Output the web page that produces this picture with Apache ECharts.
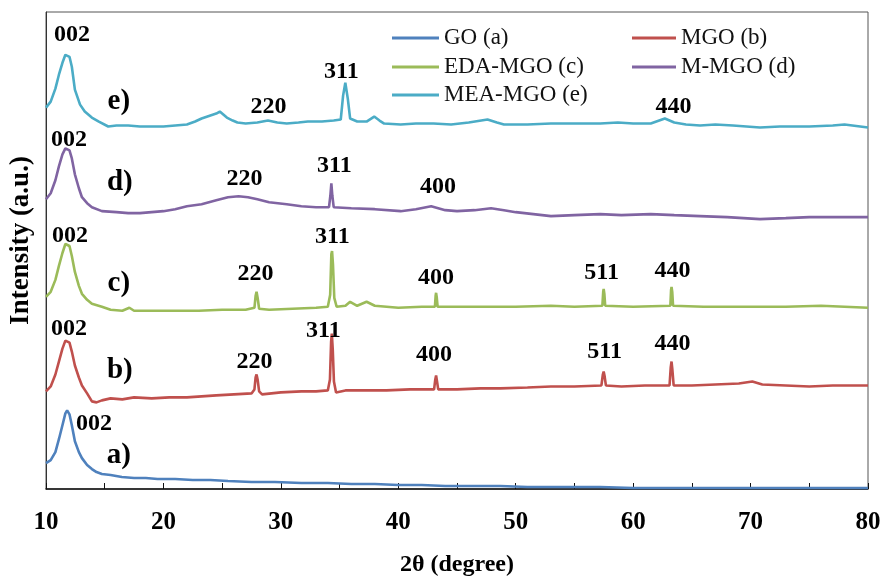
<!DOCTYPE html>
<html>
<head>
<meta charset="utf-8">
<script src="https://cdn.jsdelivr.net/npm/echarts@6/dist/echarts.min.js"></script>
<style>html,body{margin:0;padding:0;background:#fff}#c{width:886px;height:582px}</style>
</head>
<body>
<div id="c"></div>
<script>
// ---- data (2θ in degrees, intensity in arbitrary stacked units) ----
const seriesNames = ['GO (a)', 'MGO (b)', 'EDA-MGO (c)', 'M-MGO (d)', 'MEA-MGO (e)'];
const xTickLabels = [10, 20, 30, 40, 50, 60, 70, 80];

const GO_a = [[10,26],[10.4,29],[10.8,37],[11.1,50],[11.4,64],[11.65,76],[11.8,79],[12.0,75],[12.2,64],[12.46,48],[12.8,37],[13.06,31],[13.5,24],[13.91,20],[14.3,17],[14.76,15],[15.5,14],[16.46,12],[17.5,11],[18.5,11],[19.5,10],[21,10],[22.5,9],[24,9],[25.5,8],[27.5,7],[29.5,7],[31.75,6],[34,6],[36,5],[38,5],[40,4],[42,4],[44,3],[46,3],[48.7,3],[51,2],[54,2],[57.2,2],[60,1],[65,1],[70,1],[75,1],[80,1]];

const MGO_b = [[10,98],[10.4,103],[10.8,115],[11.1,128],[11.4,141],[11.65,149],[11.8,151],[12.0,147],[12.2,138],[12.46,124],[12.8,112],[13.06,104],[13.5,96],[13.91,88],[14.3,87],[14.76,89],[15.5,91],[16.5,90],[17.5,92],[19,91],[20.5,92],[22,92],[23.25,93],[24.5,94],[26,95],[27.5,96],[27.75,100],[27.85,112],[27.93,115],[28.02,110],[28.15,98],[28.4,95],[30,97],[31.75,98],[33,98],[34.0,99],[34.18,110],[34.28,148],[34.34,156],[34.42,140],[34.52,108],[34.7,97],[35.5,99],[37,99],[39,99],[41,100],[43.05,100],[43.15,110],[43.22,114],[43.3,108],[43.4,100],[45,100],[47,101],[48.7,101],[51,102],[53,103],[55,103],[57.3,104],[57.42,115],[57.49,118],[57.56,114],[57.68,104],[59,103],[61,104],[63.1,104],[63.2,122],[63.27,128],[63.34,120],[63.45,104],[65,104],[67,105],[69,106],[70.15,108],[71,105],[73,104],[75,103],[77,104],[80,104]];

const EDA_c = [[10,193],[10.4,198],[10.8,210],[11.1,224],[11.4,237],[11.65,246],[11.8,248],[12.0,244],[12.2,234],[12.46,218],[12.8,204],[13.06,196],[13.5,190],[13.91,186],[14.76,183],[15.5,180],[16.5,179],[17.1,182],[17.5,179],[19,179],[21,179],[23,179],[25,180],[27.0,180],[27.75,182],[27.85,194],[27.93,198],[28.02,192],[28.15,181],[29,180],[31,181],[33,182],[34.0,183],[34.2,195],[34.3,236],[34.36,239],[34.44,225],[34.55,192],[34.75,183],[35.5,184],[35.9,188],[36.5,184],[37.3,188],[38,184],[40,182],[42,183],[43.12,183],[43.18,194],[43.22,197],[43.28,192],[43.35,183],[45,183],[48,183],[50,183],[53,184],[55,183],[57.38,184],[57.45,198],[57.49,201],[57.55,196],[57.62,184],[60,183],[63.17,184],[63.23,200],[63.27,203],[63.33,198],[63.4,184],[66,183],[70,183],[73,183],[76,184],[80,182]];

const M_MGO_d = [[10,291],[10.4,297],[10.8,310],[11.1,324],[11.4,336],[11.65,342],[11.8,343],[12.0,340],[12.2,332],[12.46,316],[12.8,302],[13.06,293],[13.5,287],[13.91,283],[14.76,279],[16,278],[17,277],[18,277],[19,278],[20,279],[21,281],[22,284],[23.25,286],[24.5,290],[25.5,293],[26.4,294],[27.2,293],[28,291],[29,288],[30.5,286],[31.75,284],[33,283],[34.1,283],[34.22,295],[34.3,307],[34.38,295],[34.5,283],[36,282],[38,281],[40.2,279],[41.5,281],[42.8,284],[44,280],[45,279],[46.5,280],[47.9,282],[49,280],[50,278],[51.5,276],[53,274],[55,275],[57.2,276],[59,275],[61.5,276],[63.5,275],[65.7,274],[68,273],[70.8,271],[73,272],[75,273],[77.5,273],[80,273]];

const MEA_MGO_e = [[10,383],[10.4,389],[10.8,402],[11.1,416],[11.4,428],[11.65,436],[11.8,438],[12.0,434],[12.2,424],[12.46,401],[12.9,386],[13.3,379],[13.9,373],[14.5,369],[15.3,364],[16,365],[17,365],[18,364],[19,364],[20,364],[21,365],[22,366],[22.7,369],[23.25,372],[24,375],[24.5,377],[24.8,379],[25.1,376],[25.4,373],[25.9,370],[26.3,368],[27,367],[28,368],[28.9,370],[29.7,368],[30.5,367],[31.5,368],[32.3,369],[33.5,369],[34.5,370],[35.1,371],[35.3,395],[35.49,408],[35.7,392],[35.9,372],[36.5,369],[37.3,369],[37.95,374],[38.4,370],[38.8,367],[40.2,366],[41.5,367],[43,367],[44.5,366],[46,368],[47.6,371],[48.4,368],[49,366],[51,366],[53,367],[55,367],[57.2,367],[58.7,368],[60,367],[61.5,367],[62.7,372],[63.5,368],[64.5,366],[65.7,365],[67,366],[68.5,365],[70.8,363],[72.5,364],[75,364],[77,365],[78,366],[80,363]];

// peak (hkl) annotations: [2θ, intensity, text]
const hklLabels = [
  [12.21,456,'002'],[28.94,384,'220'],[35.15,419,'311'],[63.44,384,'440'],
  [11.95,351,'002'],[26.9,312,'220'],[34.55,325,'311'],[43.39,303,'400'],
  [12.04,254,'002'],[27.84,216,'220'],[34.38,253,'311'],[43.22,212,'400'],[57.32,217,'511'],[63.35,219,'440'],
  [11.95,161,'002'],[27.76,128,'220'],[33.62,159,'311'],[43.05,135,'400'],[57.57,138,'511'],[63.35,146,'440'],
  [14.08,65,'002']
];
// curve tags: [2θ, intensity, text]
const curveTags = [[16.2,389,'e)'],[16.29,308,'d)'],[16.2,206,'c)'],[16.29,119,'b)'],[16.2,34,'a)']];

// ---- styling ----
const colors = ['#4F81BD', '#C0504D', '#9BBB59', '#8064A2', '#4BACC6'];
const FONT = "'Liberation Serif', 'Times New Roman', serif";
const curves = [GO_a, MGO_b, EDA_c, M_MGO_d, MEA_MGO_e];

const chart = echarts.init(document.getElementById('c'), null, {renderer: 'canvas'});

const series = curves.map((d, i) => ({
  name: seriesNames[i],
  type: 'line',
  data: d,
  showSymbol: false,
  symbol: 'none',
  smooth: false,
  z: 2 + (4 - i),
  lineStyle: {color: colors[i], width: 2.6},
  itemStyle: {color: colors[i]}
}));

series.push({
  type: 'scatter', data: hklLabels, symbolSize: 0, silent: true, z: 10,
  itemStyle: {opacity: 0},
  label: {show: true, position: 'inside', formatter: p => p.data[2], opacity: 1,
    fontFamily: FONT, fontWeight: 'bold', fontSize: 24, color: '#000', textBorderWidth: 0}
});
series.push({
  type: 'scatter', data: curveTags, symbolSize: 0, silent: true, z: 10,
  itemStyle: {opacity: 0},
  label: {show: true, position: 'inside', formatter: p => p.data[2], opacity: 1,
    fontFamily: FONT, fontWeight: 'bold', fontSize: 29, color: '#000', textBorderWidth: 0}
});

const legendPos = [[392, 25], [632, 25], [392, 54], [632, 54], [392, 82]];
const legends = seriesNames.map((n, i) => ({
  data: [n],
  left: legendPos[i][0],
  top: legendPos[i][1],
  padding: 0,
  icon: 'rect',
  itemWidth: i % 2 === 0 ? 47 : 44,
  itemHeight: 3,
  selectedMode: false,
  textStyle: {fontFamily: FONT, fontSize: 23, color: '#111', lineHeight: 26}
}));

chart.setOption({
  animation: false,
  backgroundColor: '#fff',
  legend: legends,
  grid: {left: 44, right: 18, top: 12, bottom: 91, show: true, borderColor: '#555', borderWidth: 1},
  xAxis: {
    type: 'value', min: 10, max: 80, interval: 5,
    name: '2θ (degree)', nameLocation: 'middle', nameGap: 64,
    nameTextStyle: {fontFamily: FONT, fontWeight: 'bold', fontSize: 24, color: '#000'},
    axisLine: {show: true, lineStyle: {color: '#111', width: 1.5}},
    axisTick: {show: true, inside: true, length: 6, lineStyle: {color: '#111'}},
    axisLabel: {margin: 21, fontFamily: FONT, fontWeight: 'bold', fontSize: 25, color: '#000',
      formatter: v => (xTickLabels.indexOf(v) >= 0 ? String(v) : '')},
    splitLine: {show: false}
  },
  yAxis: {
    type: 'value', min: 0, max: 479,
    name: 'Intensity (a.u.)', nameLocation: 'middle', nameGap: 11,
    nameTextStyle: {fontFamily: FONT, fontWeight: 'bold', fontSize: 27, color: '#000', padding: [0, 0, 0, 20]},
    axisLine: {show: true, lineStyle: {color: '#333', width: 1}},
    axisTick: {show: false}, axisLabel: {show: false}, splitLine: {show: false}
  },
  series: series
});
</script>
</body>
</html>
